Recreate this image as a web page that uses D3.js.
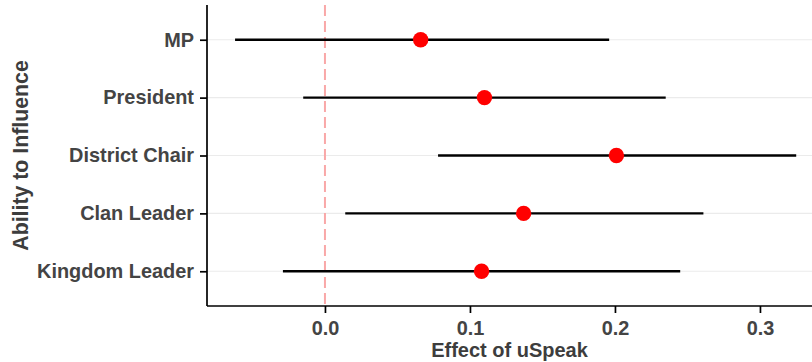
<!DOCTYPE html>
<html>
<head>
<meta charset="utf-8">
<script src="https://cdn.jsdelivr.net/npm/d3@7"></script>
<style>
  body { margin: 0; background: #fff; }
  svg text { font-family: "Liberation Sans", Arial, sans-serif; font-weight: bold; }
</style>
</head>
<body>
<svg id="chart" width="812" height="362"></svg>
<script>
const categories = ['MP', 'President', 'District Chair', 'Clan Leader', 'Kingdom Leader']
const estimates = [0.066, 0.110, 0.201, 0.137, 0.108]
const lower = [-0.062, -0.015, 0.078, 0.014, -0.029]
const upper = [0.196, 0.235, 0.325, 0.261, 0.245]
const xTicks = [0, 0.1, 0.2, 0.3]

const margin = { top: 5, left: 207, bottom: 306 }

const svg = d3.select('#chart')

// ggplot-style 5% expansion on the x range
const lo = d3.min(lower), hi = d3.max(upper)
const pad = (hi - lo) * 0.05
const xscale = d3.scaleLinear()
    .domain([lo - pad, hi + pad])
    .range([margin.left, margin.left + (hi - lo + 2 * pad) * 1450])

const yscale = d3.scalePoint()
    .domain(categories)
    .range([margin.top, margin.bottom])
    .padding(0.6)

// grid lines
svg.append('g')
    .selectAll('line')
    .data(categories)
    .join('line')
    .attr('x1', margin.left)
    .attr('x2', 812)
    .attr('y1', d => yscale(d))
    .attr('y2', d => yscale(d))
    .style('stroke', '#ebebeb')
    .style('stroke-width', 1.1)

// zero reference line
svg.append('line')
    .attr('x1', xscale(0))
    .attr('x2', xscale(0))
    .attr('y1', margin.top)
    .attr('y2', margin.bottom)
    .style('stroke', '#f9a8a8')
    .style('stroke-width', 2)
    .style('stroke-dasharray', '11,5')

// intervals
svg.append('g')
    .selectAll('line')
    .data(categories)
    .join('line')
    .attr('x1', (d, i) => xscale(lower[i]))
    .attr('x2', (d, i) => xscale(upper[i]))
    .attr('y1', d => yscale(d))
    .attr('y2', d => yscale(d))
    .style('stroke', 'black')
    .style('stroke-width', 2.3)

// point estimates
svg.append('g')
    .selectAll('circle')
    .data(categories)
    .join('circle')
    .attr('cx', (d, i) => xscale(estimates[i]))
    .attr('cy', d => yscale(d))
    .attr('r', 7.7)
    .attr('fill', 'red')

// axes
const xAxis = d3.axisBottom(xscale)
    .tickValues(xTicks)
    .tickFormat(d3.format('.1f'))
    .tickSizeOuter(0)
    .tickSize(7)
    .tickPadding(8)

const gx = svg.append('g')
    .attr('transform', `translate(0, ${margin.bottom})`)
    .call(xAxis)
gx.select('.domain').attr('d', `M${margin.left},0H812`)

const yAxis = d3.axisLeft(yscale)
    .tickSizeOuter(0)
    .tickSize(7)
    .tickPadding(6)

const gy = svg.append('g')
    .attr('transform', `translate(${margin.left}, 0)`)
    .call(yAxis)
gy.select('.domain').attr('d', `M0,${margin.top}V${margin.bottom}`)

svg.selectAll('.domain, .tick line')
    .style('stroke', 'black')
    .style('stroke-width', 1.7)
svg.selectAll('.tick text')
    .style('font-size', '19.9px')
    .style('fill', '#444')

// titles
svg.append('text')
    .text('Effect of uSpeak')
    .attr('x', (margin.left + 812) / 2)
    .attr('y', 357)
    .attr('text-anchor', 'middle')
    .style('font-size', '20px')
    .style('fill', '#3d3d3d')

svg.append('text')
    .text('Ability to Influence')
    .attr('transform', `translate(28, ${(margin.top + margin.bottom) / 2}) rotate(-90)`)
    .attr('text-anchor', 'middle')
    .style('font-size', '21.3px')
    .style('fill', '#3d3d3d')
</script>
</body>
</html>
